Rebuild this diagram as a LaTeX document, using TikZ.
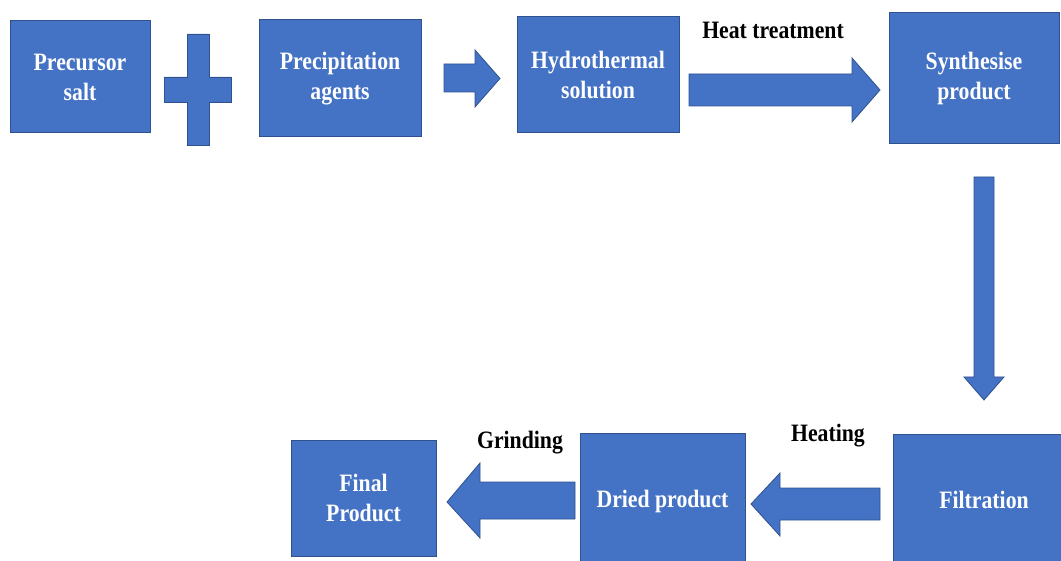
\documentclass[tikz,border=0pt]{standalone}
\usepackage{fontspec}
\setmainfont{Liberation Serif}[FakeStretch=0.87]
\definecolor{boxfill}{HTML}{4472C4}
\definecolor{boxline}{HTML}{2F528F}
\tikzset{
  box/.style={draw=boxline, fill=boxfill, line width=1pt, text=white, align=center,
    font=\bfseries\fontsize{25}{30}\selectfont, inner sep=0pt},
  blockarrow/.style={draw=boxline, fill=boxfill, line width=0.8pt, line join=miter},
  lbl/.style={text=black, font=\bfseries\fontsize{25}{28}\selectfont, anchor=base, inner sep=0pt}
}
\begin{document}
\begin{tikzpicture}[x=1pt,y=-1pt]
\useasboundingbox (0,0) rectangle (1061,561);
% boxes
\node[box, minimum width=140pt, minimum height=112pt] (prec) at (80,77) {Precursor\\salt};
\node[box, minimum width=162pt, minimum height=117pt] (precip) at (340,78.5) {Precipitation\\agents};
\node[box, minimum width=162pt, minimum height=116pt] (hydro) at (598,75) {Hydrothermal\\solution};
\node[box, minimum width=170pt, minimum height=131pt] (synth) at (974,78.5) {Synthesise\\product};
\node[box, minimum width=182pt, minimum height=130pt] (filt) at (984,500) {Filtration};
\node[box, minimum width=165pt, minimum height=134pt] (dried) at (662.5,501) {Dried product};
\node[box, minimum width=145pt, minimum height=116pt] (final) at (363.5,498) {Final\\Product};
% plus sign
\draw[blockarrow] (187,34) -- (209,34) -- (209,77) -- (231,77) -- (231,102) -- (209,102)
  -- (209,145) -- (187,145) -- (187,102) -- (164,102) -- (164,77) -- (187,77) -- cycle;
% arrow precip -> hydro
\draw[blockarrow] (444,64) -- (475,64) -- (475,50) -- (500,78.5) -- (475,107) -- (475,92) -- (444,92) -- cycle;
% arrow hydro -> synth
\draw[blockarrow] (689,74) -- (852,74) -- (852,58) -- (880,90) -- (852,122) -- (852,106) -- (689,106) -- cycle;
% arrow synth -> filt (down)
\draw[blockarrow] (974,177) -- (994,177) -- (994,377) -- (1004,377) -- (984,400) -- (964,377) -- (974,377) -- cycle;
% arrow filt -> dried
\draw[blockarrow] (880,488) -- (780,488) -- (780,473) -- (751,504) -- (780,536) -- (780,520) -- (880,520) -- cycle;
% arrow dried -> final
\draw[blockarrow] (575,482) -- (480,482) -- (480,463) -- (447,502) -- (480,538) -- (480,519) -- (575,519) -- cycle;
% labels
\node[lbl] (ht) at (773,39) {Heat treatment};
\node[lbl] (heating) at (828,442) {Heating};
\node[lbl] (grinding) at (520,448) {Grinding};
\end{tikzpicture}
\end{document}
